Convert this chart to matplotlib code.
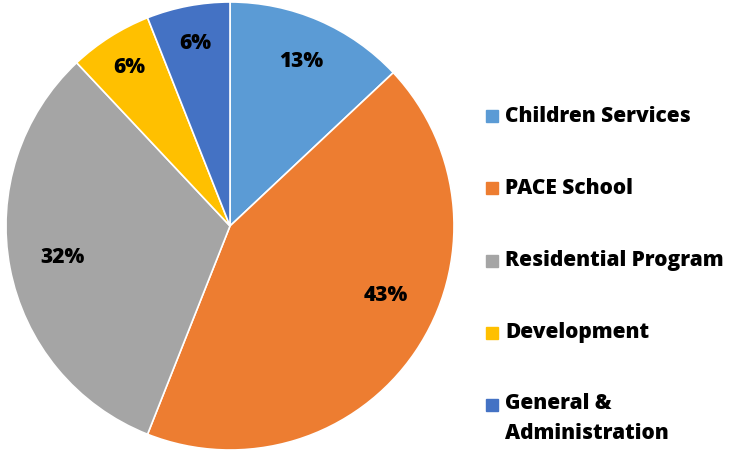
import numpy as np
import matplotlib.pyplot as plt
from matplotlib.patches import Rectangle

plt.rcParams['font.family'] = ['Open Sans', 'DejaVu Sans']

categories = ['Children Services', 'PACE School', 'Residential Program',
              'Development', 'General &\nAdministration']
shares = [13, 43, 32, 6, 6]
colors = ['#5B9BD5', '#ED7D31', '#A5A5A5', '#FFC000', '#4472C4']

# label placement (radius fraction, angle shift in degrees)
lab_r = [0.80, 0.76, 0.76, 0.84, 0.83]
lab_shift = [0, 10, 0, 0, 0]

fig = plt.figure(figsize=(7.35, 4.55), dpi=100)
ax = fig.add_axes([6 / 735, 5 / 455, 448 / 735, 448 / 455])

wedges, texts, autotexts = ax.pie(
    shares, colors=colors, startangle=90, counterclock=False,
    autopct='%d%%', pctdistance=0.79, radius=1,
    wedgeprops=dict(edgecolor='white', linewidth=1.2),
    textprops=dict(fontsize=15, fontweight=800, color='black'))
for w, t, r, s in zip(wedges, autotexts, lab_r, lab_shift):
    a = np.deg2rad((w.theta1 + w.theta2) / 2 + s)
    t.set_position((r * np.cos(a), r * np.sin(a)))
ax.set_xlim(-1, 1)
ax.set_ylim(-1, 1)
ax.set_aspect('equal')

# legend drawn by hand to match spacing
y0 = 116
for i, (name, col) in enumerate(zip(categories, colors)):
    y = y0 + i * 72.3
    fig.patches.append(Rectangle((486 / 735, 1 - (y + 6) / 455), 12 / 735, 12 / 455,
                                 transform=fig.transFigure, color=col))
    fig.text(505 / 735, 1 - y / 455, name, fontsize=15, fontweight=800,
             va='top' if '\n' in name else 'center', ha='left',
             linespacing=1.55)
# fix vertical alignment of two-line label
fig.texts[-1].set_position((505 / 735, 1 - 393 / 455))

fig.savefig('out.png', dpi=100)
